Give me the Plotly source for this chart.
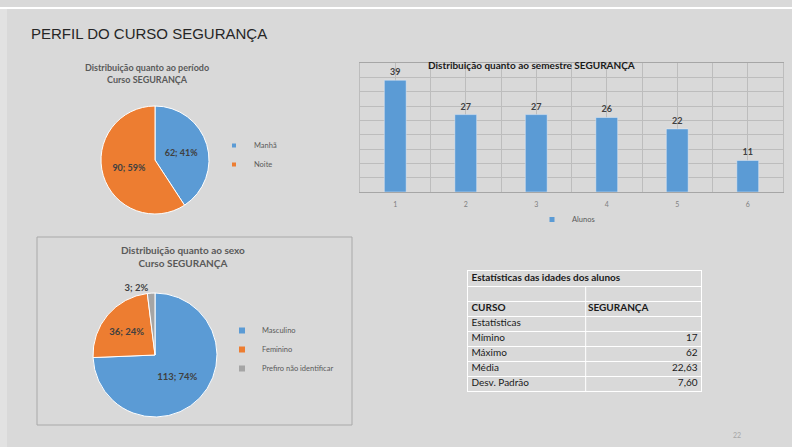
import plotly.graph_objects as go

W, H = 792, 447

# -----------------------------
# dados
# -----------------------------
periodo_labels = ["Manhã", "Noite"]
periodo_values = [62, 90]

semestres = [1, 2, 3, 4, 5, 6]
alunos = [39, 27, 27, 26, 22, 11]

sexo_labels = ["Masculino", "Feminino", "Prefiro não identificar"]
sexo_values = [113, 36, 3]

tabela_titulo = "Estatísticas das idades dos alunos"
tabela_curso = ["CURSO", "SEGURANÇA"]
tabela_estat = ["Mímino", "Máximo", "Média", "Desv. Padrão"]
tabela_valores = ["17", "62", "22,63", "7,60"]

AZUL, LARANJA, CINZA = "#5b9bd5", "#ed7d31", "#a5a5a5"
BG = "#d9d9d9"
FONT = "Lato"


def fx(x):
    return x / W


def fy(y):
    return 1 - y / H


fig = go.Figure()

# -----------------------------
# Pizza: período
# -----------------------------
fig.add_trace(go.Pie(
    labels=periodo_labels,
    values=periodo_values,
    sort=False,
    direction="clockwise",
    marker=dict(colors=[AZUL, LARANJA], line=dict(color="white", width=1)),
    texttemplate="<b>%{value}; %{percent:.0%}</b>",
    textposition="inside",
    insidetextorientation="horizontal",
    textfont=dict(family=FONT, size=9, color="#404040"),
    domain=dict(x=[fx(101), fx(209)], y=[fy(214), fy(106)]),
    showlegend=False,
    hoverinfo="label+value+percent",
))

# -----------------------------
# Barras: semestre
# -----------------------------
fig.add_trace(go.Bar(
    x=semestres,
    y=alunos,
    name="Alunos",
    marker=dict(color=AZUL),
    width=0.31,
    texttemplate="<b>%{y}</b>",
    textposition="outside",
    textfont=dict(family=FONT, size=9, color="#404040"),
    cliponaxis=False,
    showlegend=False,
))

# -----------------------------
# Pizza: sexo
# -----------------------------
fig.add_trace(go.Pie(
    labels=sexo_labels,
    values=sexo_values,
    sort=False,
    direction="clockwise",
    marker=dict(colors=[AZUL, LARANJA, CINZA], line=dict(color="white", width=1)),
    texttemplate="<b>%{value}; %{percent:.0%}</b>",
    textposition=["inside", "inside", "outside"],
    insidetextorientation="horizontal",
    textfont=dict(family=FONT, size=9.5, color="#404040"),
    domain=dict(x=[fx(93), fx(217)], y=[fy(417), fy(293)]),
    showlegend=False,
    hoverinfo="label+value+percent",
))

# -----------------------------
# Legendas (marcadores pequenos, estilo Excel)
# -----------------------------
for nome, cor in zip(periodo_labels, [AZUL, LARANJA]):
    fig.add_trace(go.Scatter(x=[None], y=[None], mode="markers", name=nome,
                             marker=dict(color=cor, size=4, symbol="square"), legend="legend"))
fig.add_trace(go.Scatter(x=[None], y=[None], mode="markers", name="Alunos",
                         marker=dict(color=AZUL, size=5, symbol="square"), legend="legend2"))
for nome, cor in zip(sexo_labels, [AZUL, LARANJA, CINZA]):
    fig.add_trace(go.Scatter(x=[None], y=[None], mode="markers", name=nome,
                             marker=dict(color=cor, size=6, symbol="square"), legend="legend3"))

# -----------------------------
# Tabela de estatísticas (eixo próprio: colunas x linhas)
# -----------------------------
linhas_esq = ["<b>" + tabela_titulo + "</b>", "", "<b>" + tabela_curso[0] + "</b>", "Estatísticas"] + tabela_estat
linhas_dir = ["", "", "<b>" + tabela_curso[1] + "</b>", ""]
n_linhas = len(linhas_esq)
centros = [i + 0.5 for i in range(n_linhas)]
cell_font = dict(family=FONT, size=10, color="#1a1a1a")

fig.add_trace(go.Scatter(
    x=[0.03] * n_linhas, y=centros, text=linhas_esq, mode="text",
    textposition="middle right", textfont=cell_font,
    xaxis="x2", yaxis="y2", showlegend=False, hoverinfo="skip",
))
fig.add_trace(go.Scatter(
    x=[1.03] * len(linhas_dir), y=centros[:len(linhas_dir)], text=linhas_dir, mode="text",
    textposition="middle right", textfont=cell_font,
    xaxis="x2", yaxis="y2", showlegend=False, hoverinfo="skip",
))
fig.add_trace(go.Scatter(
    x=[1.97] * len(tabela_valores), y=centros[len(linhas_dir):], text=tabela_valores, mode="text",
    textposition="middle left", textfont=cell_font,
    xaxis="x2", yaxis="y2", showlegend=False, hoverinfo="skip",
))

shapes = [
    dict(type="rect", xref="paper", yref="paper", x0=0, x1=1, y0=fy(9), y1=fy(7),
         fillcolor="white", line=dict(width=0), layer="below"),
    dict(type="rect", xref="paper", yref="paper", x0=0, x1=fx(7), y0=0, y1=fy(9),
         fillcolor="#e2e2e2", line=dict(width=0), layer="below"),
    dict(type="rect", xref="paper", yref="paper", x0=fx(37), x1=fx(352), y0=fy(425), y1=fy(237),
         fillcolor="rgba(0,0,0,0)", line=dict(color="#a9a9a9", width=1)),
    # divisória das colunas da tabela (a partir da 2a linha)
    dict(type="line", xref="x2", yref="y2", x0=1.01, x1=1.01, y0=1, y1=n_linhas,
         line=dict(color="white", width=1), layer="below"),
]

annotations = [
    dict(text="PERFIL DO CURSO SEGURANÇA", x=fx(29), y=fy(33), xanchor="left", yanchor="middle",
         font=dict(family="Liberation Sans", size=15, color="#262626")),
    dict(text="<b>Distribuição quanto ao período<br>Curso SEGURANÇA</b>", x=fx(147), y=fy(73),
         xanchor="center", yanchor="middle",
         font=dict(family=FONT, size=9, color="#595959")),
    dict(text="<b>Distribuição quanto ao semestre SEGURANÇA</b>", x=fx(531), y=fy(65),
         xanchor="center", yanchor="middle",
         font=dict(family=FONT, size=10, color="#1a1a1a")),
    dict(text="<b>Distribuição quanto ao sexo<br>Curso SEGURANÇA</b>", x=fx(183), y=fy(256),
         xanchor="center", yanchor="middle",
         font=dict(family=FONT, size=10, color="#595959")),
    dict(text="22", x=fx(737), y=fy(435), xanchor="center", yanchor="middle",
         font=dict(family=FONT, size=7, color="#a6a6a6")),
]
for a in annotations:
    a.update(xref="paper", yref="paper", showarrow=False)

legend_font = dict(family=FONT, size=7.5, color="#595959")
legend_base = dict(xanchor="left", yanchor="top", font=legend_font,
                   bgcolor="rgba(0,0,0,0)", itemwidth=30, itemsizing="trace")
fig.update_layout(
    width=W, height=H,
    margin=dict(l=0, r=0, t=0, b=0),
    paper_bgcolor=BG,
    plot_bgcolor=BG,
    font=dict(family=FONT),
    showlegend=True,
    shapes=shapes,
    annotations=annotations,
    legend=dict(x=fx(214), y=fy(131), **legend_base),
    legend2=dict(x=fx(532), y=fy(205), **legend_base),
    legend3=dict(x=fx(222), y=fy(316), **legend_base),
    xaxis=dict(domain=[fx(360), fx(783)], range=[0.5, 6.5], tickvals=semestres,
               showgrid=True, gridcolor="#bdbdbd", zeroline=False,
               minor=dict(dtick=0.5, tick0=0.5, showgrid=True, gridcolor="#bdbdbd"),
               showline=True, linecolor="#a6a6a6", mirror=True, ticklabelstandoff=6,
               tickfont=dict(family=FONT, size=7, color="#7f7f7f"), ticks="", fixedrange=True),
    yaxis=dict(domain=[fy(192), fy(63)], range=[0, 45], dtick=5,
               showgrid=True, gridcolor="#bdbdbd", zeroline=False, fixedrange=True,
               showticklabels=False, showline=True, linecolor="#bdbdbd", mirror=True),
    xaxis2=dict(domain=[fx(468), fx(701)], range=[0, 2], anchor="y2", showgrid=False,
                zeroline=False, showticklabels=False, showline=True, linecolor="white",
                mirror=True, fixedrange=True),
    yaxis2=dict(domain=[fy(391), fy(271)], range=[n_linhas, 0], anchor="x2", dtick=1,
                showgrid=True, gridcolor="white", zeroline=False, showticklabels=False,
                showline=True, linecolor="white", mirror=True, fixedrange=True),
)

fig.write_html("out.html", config={"displayModeBar": False},
               post_script="document.body.style.margin='0';")
